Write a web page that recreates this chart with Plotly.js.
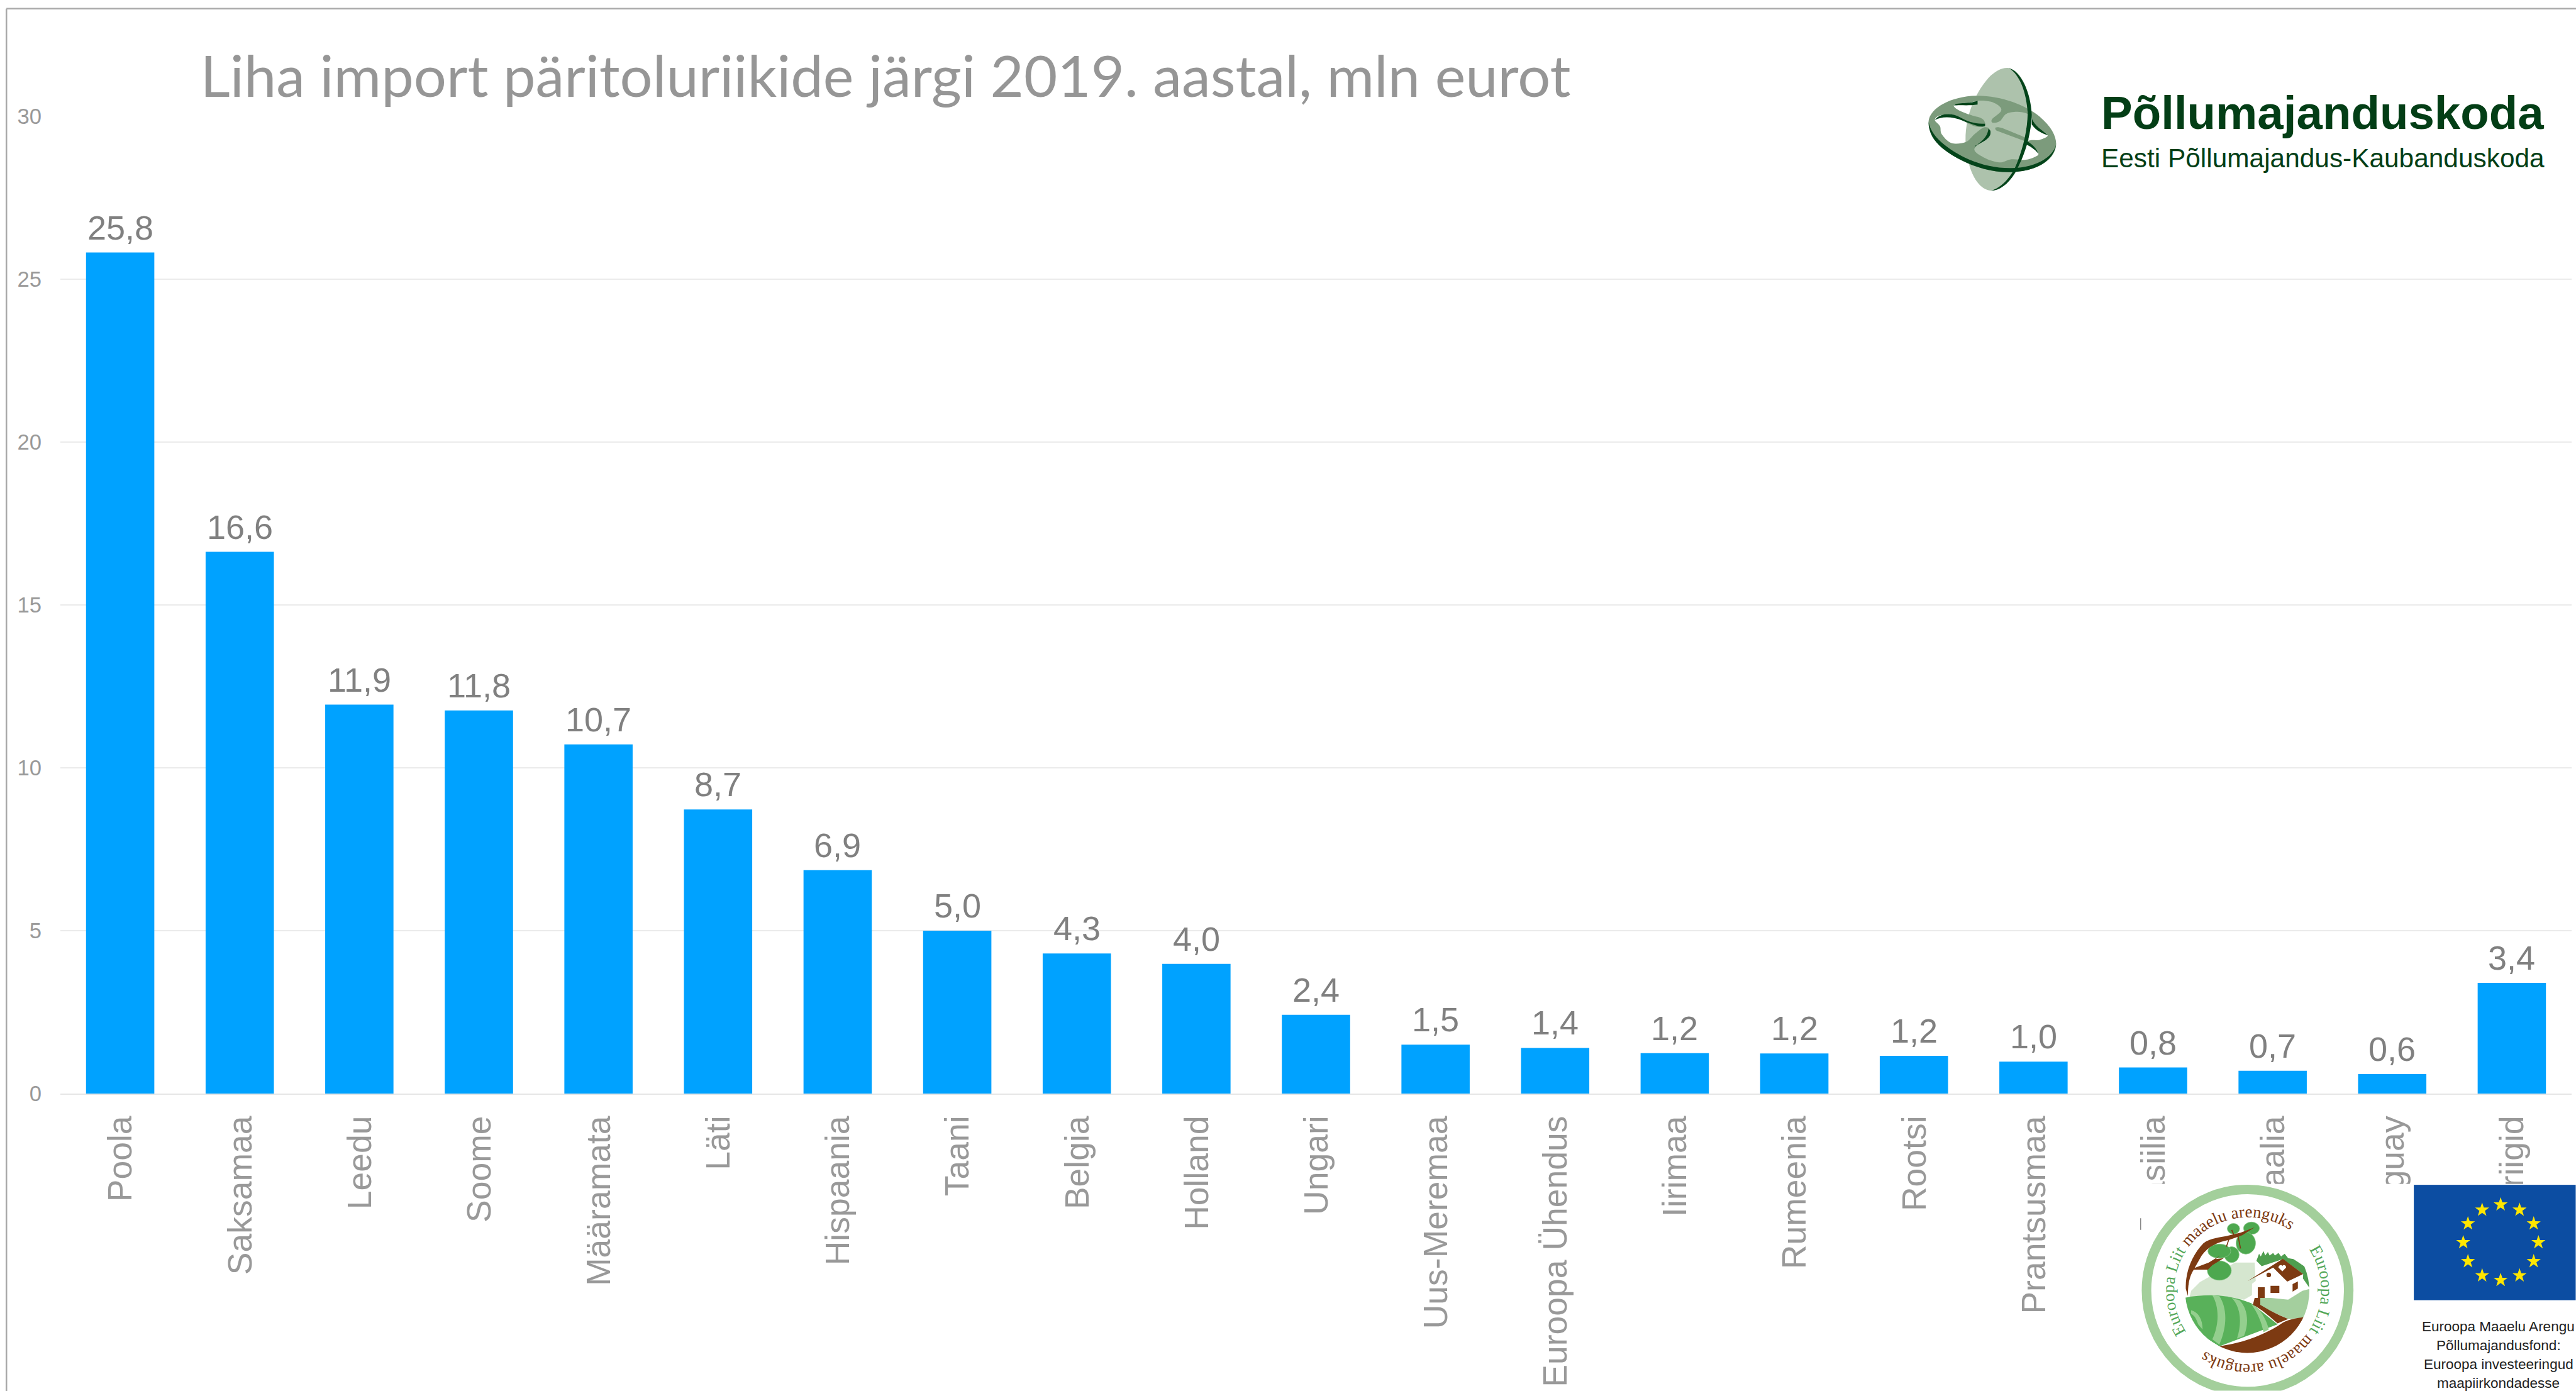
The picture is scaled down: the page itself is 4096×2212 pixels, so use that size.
<!DOCTYPE html>
<html><head><meta charset="utf-8">
<script src="https://cdn.plot.ly/plotly-3.0.1.min.js"></script>
<style>html,body{margin:0;padding:0;background:#fff;overflow:hidden}#c{width:4096px;height:2212px}</style>
</head><body><div id="c"></div>
<script>
const titleText = 'Liha import päritoluriikide järgi 2019. aastal, mln eurot';
const categories = ['Poola','Saksamaa','Leedu','Soome','Määramata','Läti','Hispaania','Taani','Belgia','Holland','Ungari','Uus-Meremaa','Euroopa Ühendus','Iirimaa','Rumeenia','Rootsi','Prantsusmaa','Brasiilia','Austraalia','Uruguay','Muud riigid'];
const values = [25.82,16.63,11.94,11.76,10.72,8.72,6.86,5.0,4.3,3.98,2.42,1.5,1.4,1.24,1.23,1.16,0.98,0.8,0.7,0.6,3.4];
const brandName = 'Põllumajanduskoda';
const brandSub = 'Eesti Põllumajandus-Kaubanduskoda';
const euLines = ['Euroopa Maaelu Arengu','Põllumajandusfond:','Euroopa investeeringud','maapiirkondadesse'];

const W=4096,H=2212,S=W/4866;
const L=114.6*S,R=W-4858*S,T=219.5*S,B=H-2066.5*S;
const PW=W-L-R,PH=H-T-B;
const xp=r=>(r*S-L)/PW, yp=r=>1-(r*S-T)/PH;
const uri=s=>'data:image/svg+xml;charset=utf-8,'+encodeURIComponent(s);

/* closed smooth outline through logo points */
const smooth=p=>{const n=p.length,g=i=>p[(i+n)%n];let d='M'+p[0][0]+','+p[0][1];
  for(let i=0;i<n;i++){const a=g(i-1),b=g(i),c=g(i+1),e=g(i+2);
    d+='C'+(b[0]+(c[0]-a[0])/6).toFixed(1)+','+(b[1]+(c[1]-a[1])/6).toFixed(1)+' '+(c[0]-(e[0]-b[0])/6).toFixed(1)+','+(c[1]-(e[1]-b[1])/6).toFixed(1)+' '+c[0]+','+c[1];}
  return d+'Z';};
const holePts=[[215,265],[280,258],[348,240],[420,245],[470,270],[480,300],[430,345],[435,365],[475,355],[510,315],[570,303],[625,312],[655,340],[680,390],[745,435],[700,462],[650,464],[632,472],[660,495],[692,535],[680,555],[620,575],[540,572],[470,590],[380,560],[330,512],[410,450],[420,415],[405,392],[375,395],[330,430],[280,475],[200,480],[145,430],[135,385],[106,350],[130,325],[200,318],[250,345],[330,385],[385,385],[390,365],[370,340],[300,318],[235,290]];

const DK='#03441a',MID='#7c9b7c',LT='#adc2ac';
const RINGOUT='M70,360 C75,280 200,215 340,212 C480,210 620,265 700,330 C770,390 800,450 792,500 C780,580 680,640 540,645 C400,650 250,590 150,510 C100,470 70,420 70,360Z';
const globe=`<svg xmlns="http://www.w3.org/2000/svg" width="400" height="300" viewBox="3620 100 400 300">
<g transform="translate(3620,110) scale(0.3333)">
<path d="M525,55 C600,70 650,200 652,320 C650,450 600,600 550,660 C510,720 460,750 425,750 C350,745 290,640 280,480 C275,320 340,190 410,110 C450,70 490,50 525,55Z" fill="${LT}"/>
<path d="${RINGOUT} ${smooth(holePts)}" fill="${MID}" fill-rule="evenodd"/>
<path d="M450,392 C470,385 490,395 610,445 L640,462 L625,472 L590,460 L470,415 C450,410 445,400 450,392Z" fill="${MID}"/>
<path d="M215,268 C225,245 290,262 348,240 L348,262 C290,270 240,262 215,268Z" fill="${DK}"/>
<path d="M106,350 C130,312 200,305 250,335 C290,358 340,375 390,370 L390,383 C370,395 320,375 260,352 C200,327 140,330 106,350Z" fill="${DK}"/>
<path d="M420,410 C430,450 380,475 335,495 L328,512 C340,480 400,470 410,398Z" fill="${DK}"/>
<path d="M655,338 C670,385 720,410 748,436 C720,428 680,412 655,375Z" fill="${DK}"/>
<path d="M630,470 C660,488 682,510 694,542 C670,512 645,498 622,488Z" fill="${DK}"/>
<path d="M70,360 C70,420 100,470 150,510 C250,590 400,650 540,645 C680,640 780,580 792,490 C775,560 680,620 540,622 C400,625 260,570 160,490 C110,450 80,410 70,360Z" fill="${DK}"/>
<path d="M525,55 C590,70 650,190 655,320 C650,450 610,560 560,650 C520,715 470,750 425,750 C480,735 530,680 560,620 C600,530 630,420 632,310 C625,190 585,90 525,55Z" fill="${DK}"/>
</g></svg>`;

const BR='#7d3a12',RG='#a3cf9b',LG='#4da84f';
const stars=[[1377,755],[1425,778],[1461,838],[1473,920],[1461,1003],[1425,1065],[1377,1085],[1330,1065],[1294,1003],[1282,920],[1294,838],[1330,778]];
const star=(zx,zy)=>{const X=3700+zx/1.3448,Y=1950+zy/2.313;let p='';for(let i=0;i<10;i++){const r=i%2?5.5:14,a=Math.PI*i/5;p+=(i?'L':'M')+(X+r*Math.sin(a)).toFixed(1)+','+(Y-r*Math.cos(a)).toFixed(1);}return `<path d="${p}Z" fill="#ffe600"/>`;};
const leaves=[[520,258,35,30],[622,255,45,35],[590,340,55,62],[510,405,42,45],[440,385,65,40],[440,495,68,55]];
const bottomLogos=`<svg xmlns="http://www.w3.org/2000/svg" xmlns:xlink="http://www.w3.org/1999/xlink" width="823" height="391" viewBox="4043 2237 823 391">
<defs><clipPath id="cp"><circle cx="598" cy="610" r="352"/></clipPath>
<path id="a1" d="M4130,2517 A140,140 0 0 1 4328,2326"/>
<path id="a2" d="M4362,2361 A140,140 0 0 1 4164,2552"/></defs>
<rect x="4043" y="2237" width="823" height="391" fill="#fff"/>
<line x1="4044" y1="2302" x2="4044" y2="2324" stroke="#777" stroke-width="1.5"/>
<circle cx="4246" cy="2438.7" r="191" fill="none" stroke="${RG}" stroke-width="18"/>
<g transform="translate(4046,2236) scale(0.3333)"><g clip-path="url(#cp)">
<path d="M280,610 L330,560 L530,450 L640,450 L650,620 L580,660 L460,640 L270,650Z" fill="#d5e6cf"/>
<path d="M650,440 L665,400 L675,415 L690,385 L700,410 L715,390 L725,410 L745,395 L755,410 L775,395 L790,415 L810,400 L830,425 L860,430 L890,450 L920,470 L950,490 L955,600 L900,520 L800,430 L680,470Z" fill="#4e9e4f"/>
<path d="M640,650 L760,650 L950,600 L950,760 L830,770 L720,720 L640,680Z" fill="#a4cf9e"/>
<path d="M240,650 C400,620 520,640 620,680 L770,800 L440,925 L240,800Z" fill="#59b15a"/>
<path d="M400,635 C440,700 440,800 400,885 L440,915 C490,800 480,700 440,640Z M510,650 C560,700 570,790 540,880 L580,865 C610,790 600,710 555,665Z M620,685 C655,730 680,790 690,845 L720,830 C710,780 680,730 650,700Z M280,720 C320,730 345,770 345,830 L320,800 C310,770 300,750 280,740Z" fill="#94cf8e"/>
<path d="M640,650 L630,690 C680,715 730,760 770,795 L830,770 C770,745 720,720 672,690 L672,650Z" fill="${BR}"/>
<path d="M430,925 C560,910 700,860 800,790 C840,770 880,765 950,755 L950,1000 L430,1000Z" fill="${BR}"/>
</g>
${leaves.map(l=>`<ellipse cx="${l[0]}" cy="${l[1]}" rx="${l[2]}" ry="${l[3]}" fill="${LG}" stroke="#86c585" stroke-width="3"/>`).join('')}
<path d="M250,600 C245,500 290,400 350,340 C390,310 440,310 500,295 L560,280 L640,250 L570,295 L500,320 C430,335 380,355 340,410 L300,480 L380,450 L445,410 L420,430 L465,425 L400,465 L375,490 L410,490 L340,490 L295,490 C270,530 262,570 262,640Z" fill="${BR}"/>
<path d="M500,300 L480,360 M545,295 L560,370 M510,265 L525,300" fill="none" stroke="${BR}" stroke-width="6"/>
<path d="M625,570 L720,500 L800,430 L915,515 L910,610 L830,660 L625,640Z" fill="#fff"/>
<path d="M600,555 L800,428 L915,515 L825,558 L745,478Z" fill="${BR}"/>
<path d="M797,500 L775,478 C775,462 795,460 797,470 C800,460 820,462 818,478Z" fill="#fff"/>
<circle cx="720" cy="520" r="13" fill="${BR}"/>
<path d="M658,590 L697,590 L697,650 L658,650Z M730,582 L780,582 L780,622 L730,622Z M855,572 L885,557 L885,597 L855,615Z" fill="${BR}"/>
</g>
<g font-family="Liberation Serif" font-size="32">
<text><textPath xlink:href="#a1" textLength="385" lengthAdjust="spacingAndGlyphs"><tspan fill="#55a85a">Euroopa Liit </tspan><tspan fill="${BR}">maaelu arenguks</tspan></textPath></text>
<text><textPath xlink:href="#a2" textLength="385" lengthAdjust="spacingAndGlyphs"><tspan fill="#55a85a">Euroopa Liit </tspan><tspan fill="${BR}">maaelu arenguks</tspan></textPath></text>
</g>
<rect x="4560" y="2239" width="306" height="218" fill="#0c4da2"/>
${stars.map(s=>star(s[0],s[1])).join('')}
</svg>`;

const anno=(text,rx,ry,size,color,family,bold,xa)=>({
  text:bold?'<b>'+text+'</b>':text, xref:'paper',yref:'paper',x:xp(rx),y:yp(ry),
  xanchor:xa,yanchor:'bottom',showarrow:false,borderpad:0,borderwidth:0,
  font:{size:size,color:color,family:family}
});
const EUY=[2514,2549,2585,2621];
const fmt=v=>v.toFixed(1).replace('.',',');
const barLabels=categories.map((c,i)=>({
  text:fmt(values[i]),xref:'x',yref:'y',x:c,y:values[i],xanchor:'center',yanchor:'bottom',yshift:10,
  showarrow:false,borderpad:0,borderwidth:0,
  font:{family:'Liberation Sans',size:54,color:'#808080'}
}));
const annotations=[
  ...barLabels,
  anno(brandName,3970,262,74.5,'#033e16','Liberation Sans',true,'left'),
  anno(brandSub,3970,327,42.4,'#033e16','Liberation Sans',false,'left'),
  ...euLines.map((t,i)=>anno(t,4720,EUY[i]+8,22.5,'#222222','Liberation Sans',false,'center'))
];

const trace={type:'bar',x:categories,y:values,width:0.571,
  marker:{color:'#00a2ff',line:{width:0}},hoverinfo:'skip'};

const layout={width:W,height:H,autosize:false,paper_bgcolor:'#fff',plot_bgcolor:'#fff',
  showlegend:false,bargap:0.429,
  margin:{l:L,r:R,t:T,b:B,pad:0},
  title:{text:titleText,xref:'paper',yref:'container',x:xp(379),xanchor:'left',y:1-122/H,yanchor:'middle',
    font:{family:'Lato',size:92,color:'#969696'},pad:{t:0,b:0,l:0,r:0}},
  xaxis:{type:'category',tickangle:-90,automargin:false,range:[-0.5,20.5],showgrid:false,zeroline:false,
    showline:true,linecolor:'#e6e6e6',linewidth:2,
    ticks:'outside',ticklen:12,tickcolor:'rgba(0,0,0,0)',tickwidth:1,ticklabelshift:1,
    tickfont:{family:'Liberation Sans',size:53.5,color:'#999999'}},
  yaxis:{range:[0,30],dtick:5,tick0:0,automargin:false,showgrid:true,gridcolor:'#ebebeb',gridwidth:2,zeroline:false,showline:false,
    ticks:'outside',ticklen:22,tickcolor:'rgba(0,0,0,0)',tickwidth:1,
    tickfont:{family:'Liberation Sans',size:34.7,color:'#999999'}},
  shapes:[
    {type:'line',xref:'paper',yref:'paper',x0:xp(12.7),x1:xp(12.7),y0:yp(16),y1:yp(2640),line:{color:'#a9a9a9',width:2.5}},
    {type:'line',xref:'paper',yref:'paper',x0:xp(12.7),x1:xp(4900),y0:yp(16),y1:yp(16),line:{color:'#a9a9a9',width:2.5}}
  ],
  images:[
    {source:uri(globe),xref:'paper',yref:'paper',x:xp(3620),y:yp(100),sizex:xp(4020)-xp(3620),sizey:yp(100)-yp(400),sizing:'stretch',xanchor:'left',yanchor:'top',layer:'above'},
    {source:uri(bottomLogos),xref:'paper',yref:'paper',x:xp(4043),y:yp(2237),sizex:xp(4866)-xp(4043),sizey:yp(2237)-yp(2628),sizing:'stretch',xanchor:'left',yanchor:'top',layer:'above'}
  ],
  annotations:annotations
};
Plotly.newPlot('c',[trace],layout,{displayModeBar:false,responsive:false});
</script></body></html>
